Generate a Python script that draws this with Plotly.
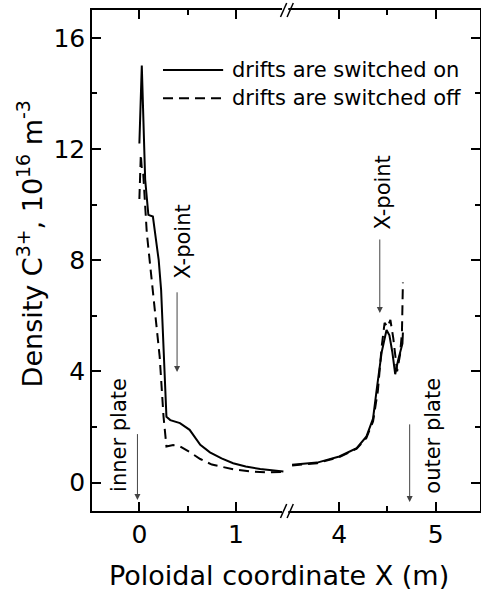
import plotly.graph_objects as go

# ---- data ----
on_left_x = [0.0, 0.025, 0.06, 0.093, 0.14, 0.17, 0.2, 0.225, 0.28, 0.32, 0.42, 0.52, 0.63, 0.73, 0.85, 0.97, 1.1, 1.25, 1.4, 1.49]
on_left_y = [12.2, 15.0, 10.9, 9.63, 9.57, 8.8, 8.0, 6.93, 2.37, 2.25, 2.14, 1.9, 1.36, 1.09, 0.87, 0.70, 0.58, 0.49, 0.43, 0.40]
off_left_x = [0.0, 0.015, 0.025, 0.04, 0.077, 0.145, 0.21, 0.25, 0.28, 0.35, 0.42, 0.52, 0.63, 0.75, 0.97, 1.15, 1.32, 1.49]
off_left_y = [10.2, 11.8, 11.3, 11.1, 8.98, 6.7, 4.53, 2.37, 1.3, 1.35, 1.3, 1.1, 0.85, 0.65, 0.48, 0.40, 0.37, 0.38]
on_right_x = [3.51, 3.77, 4.0, 4.18, 4.28, 4.35, 4.39, 4.44, 4.49, 4.52, 4.55, 4.58, 4.61, 4.645, 4.655, 4.66]
on_right_y = [0.64, 0.72, 0.94, 1.24, 1.65, 2.3, 3.4, 4.7, 5.49, 5.3, 4.7, 3.9, 4.4, 4.9, 5.0, 5.4]
off_right_x = [3.51, 3.77, 4.0, 4.18, 4.28, 4.35, 4.4, 4.44, 4.47, 4.5, 4.53, 4.56, 4.6, 4.63, 4.65, 4.66]
off_right_y = [0.62, 0.70, 0.92, 1.22, 1.6, 2.2, 3.3, 4.9, 5.75, 5.6, 5.85, 5.2, 4.0, 4.6, 5.4, 7.2]

legend_labels = ["drifts are switched on", "drifts are switched off"]
y_ticks = [0, 4, 8, 12, 16]
y_minor = [2, 6, 10, 14]
xl_ticks = [0, 1]
xl_minor = [0.5]
xr_ticks = [4, 5]
xr_minor = [4.5]

FONT = "DejaVu Sans, Liberation Sans, Arial, sans-serif"
solid = dict(color="black", width=2)
dashed = dict(color="black", width=2, dash="10px,6px")

fig = go.Figure()
fig.add_trace(go.Scatter(x=on_left_x, y=on_left_y, mode="lines", line=solid, xaxis="x", yaxis="y", showlegend=False))
fig.add_trace(go.Scatter(x=off_left_x, y=off_left_y, mode="lines", line=dashed, xaxis="x", yaxis="y", showlegend=False))
fig.add_trace(go.Scatter(x=on_right_x, y=on_right_y, mode="lines", line=solid, xaxis="x2", yaxis="y2", showlegend=False))
fig.add_trace(go.Scatter(x=off_right_x, y=off_right_y, mode="lines", line=dashed, xaxis="x2", yaxis="y2", showlegend=False))

D = 0.5018
YR = [-1.02, 17.0]
tickfont = dict(family=FONT, size=25, color="black")
minor_common = dict(ticks="inside", ticklen=5, tickwidth=1.5, tickcolor="black")
axcommon = dict(showline=True, linewidth=1.5, linecolor="black",
                ticks="inside", ticklen=9, tickwidth=1.5, tickcolor="black",
                showgrid=False, zeroline=False, automargin=False, tickfont=tickfont)
fig.update_layout(
    template="none",
    width=481, height=592,
    margin=dict(l=92, r=1, t=10, b=81, pad=0),
    paper_bgcolor="white", plot_bgcolor="white",
    font=dict(family=FONT, color="black"),
    showlegend=False,
    xaxis=dict(domain=[0, D], range=[-0.49, 1.524], tickvals=xl_ticks, anchor="y", mirror="ticks",
               minor=dict(tickvals=xl_minor, **minor_common), **axcommon),
    xaxis2=dict(domain=[D, 1], range=[3.454, 5.46], tickvals=xr_ticks, anchor="y", mirror="ticks",
                minor=dict(tickvals=xr_minor, **minor_common), **axcommon),
    yaxis=dict(domain=[0, 1], range=YR, tickvals=y_ticks, anchor="x", side="left",
               minor=dict(tickvals=y_minor, **minor_common), **axcommon),
    yaxis2=dict(domain=[0, 1], range=YR, tickvals=y_ticks, anchor="x2", side="right",
                showticklabels=False,
                minor=dict(tickvals=y_minor, **minor_common), **axcommon),
)

# axis titles
fig.add_annotation(xref="paper", yref="paper", x=0.482, y=-0.128, showarrow=False,
                   text="Poloidal coordinate X (m)", font=dict(size=27), xanchor="center", yanchor="middle")
fig.add_annotation(xref="paper", yref="paper", x=-0.16, y=0.534, showarrow=False, textangle=-90,
                   text="Density C<sup>3+</sup>, 10<sup>16</sup> m<sup>-3</sup>", font=dict(size=27),
                   xanchor="center", yanchor="middle")

# manual legend
leg_y = [0.880, 0.824]
for lbl, yy, st in zip(legend_labels, leg_y, [solid, dashed]):
    fig.add_shape(type="line", xref="paper", yref="paper", x0=0.183, x1=0.338, y0=yy, y1=yy, line=st)
    fig.add_annotation(xref="paper", yref="paper", x=0.356, y=yy, text=lbl, showarrow=False,
                       xanchor="left", yanchor="middle", font=dict(size=21))

# arrows + labels
arrow_col = "#444444"
arrows = [("x", "y", -0.02, 1.8, -0.62), ("x", "y", 0.39, 6.9, 3.98),
          ("x2", "y2", 4.42, 8.8, 6.1), ("x2", "y2", 4.73, 2.15, -0.7)]
for xr, yr, ax_, y0, y1 in arrows:
    fig.add_annotation(xref=xr, yref=yr, x=ax_, y=y1, axref=xr, ayref=yr, ax=ax_, ay=y0,
                       text="", showarrow=True, arrowhead=2, arrowsize=1.2, arrowwidth=1,
                       arrowcolor=arrow_col, standoff=0, startstandoff=0)
labels = [("x", "y", -0.21, 1.72, "inner plate"), ("x", "y", 0.45, 8.66, "X-point"),
          ("x2", "y2", 4.45, 10.42, "X-point"), ("x2", "y2", 4.97, 1.68, "outer plate")]
for xr, yr, tx, ty, t in labels:
    fig.add_annotation(xref=xr, yref=yr, x=tx, y=ty, text=t, showarrow=False, textangle=-90,
                       font=dict(size=21), xanchor="center", yanchor="middle")

# axis break marks
bx = D
for yy in [0, 1]:
    fig.add_shape(type="line", xref="paper", yref="paper", x0=bx - 0.012, x1=bx + 0.004,
                  y0=yy, y1=yy, line=dict(color="white", width=4))
    for off in [-0.008, 0.009]:
        fig.add_shape(type="line", xref="paper", yref="paper",
                      x0=bx + off - 0.008, x1=bx + off + 0.008,
                      y0=yy - 0.014, y1=yy + 0.014, line=dict(color="black", width=1.5))

fig.write_html("out.html", config={"displayModeBar": False},
               post_script="document.body.style.margin='0';document.body.style.overflow='hidden';")
